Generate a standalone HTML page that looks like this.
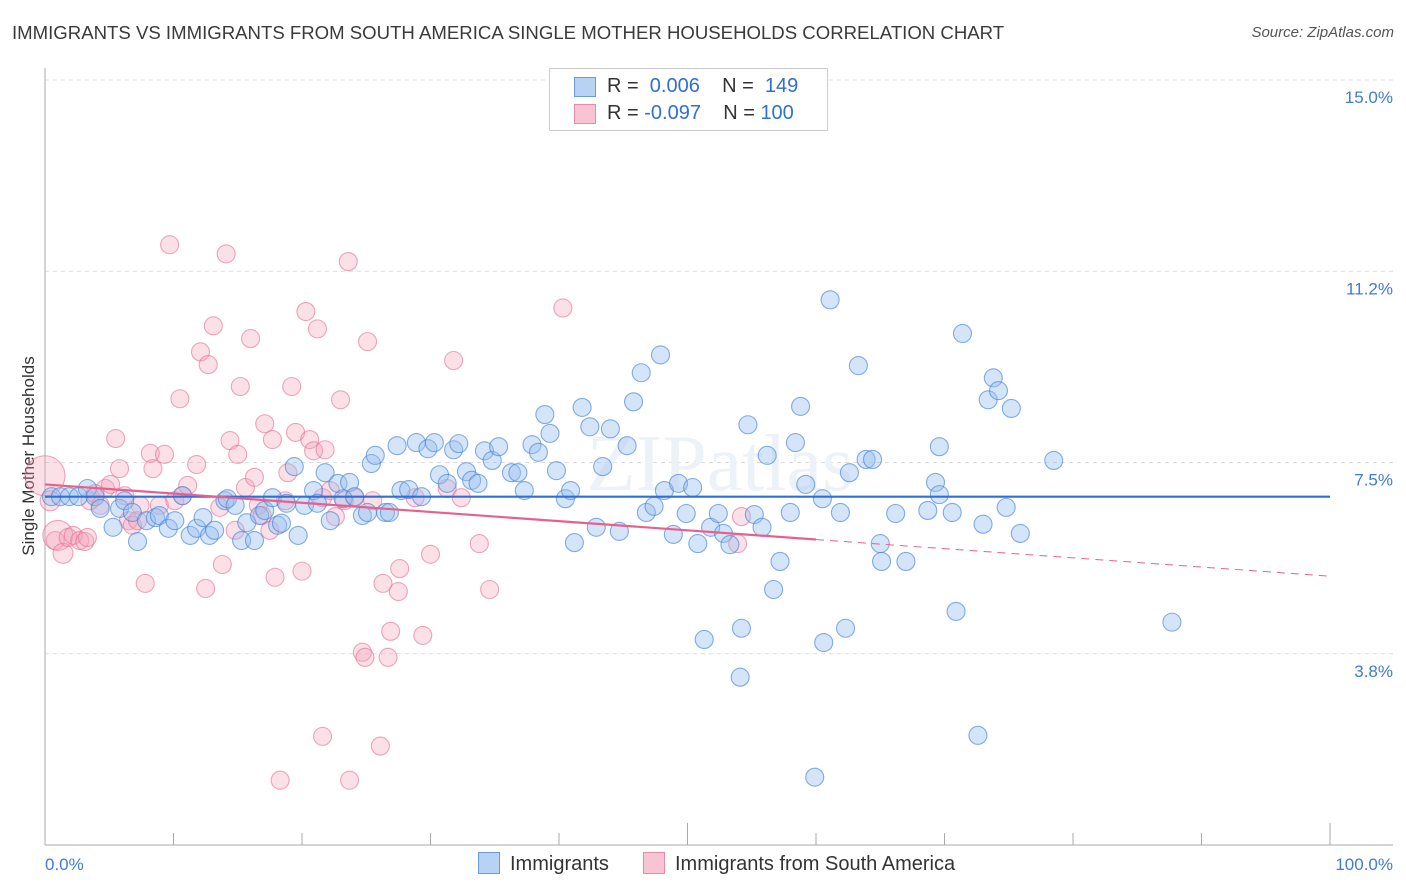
<!DOCTYPE html>
<html><head><meta charset="utf-8"><style>
body{margin:0;background:#fff;font-family:"Liberation Sans",sans-serif}
#wrap{position:relative;width:1406px;height:892px;overflow:hidden}
.t{position:absolute;white-space:nowrap}
</style></head><body>
<div id="wrap">
<div class="t" style="left:12px;top:22px;font-size:18.6px;color:#3a3a3a">IMMIGRANTS VS IMMIGRANTS FROM SOUTH AMERICA SINGLE MOTHER HOUSEHOLDS CORRELATION CHART</div>
<div class="t" style="right:12px;top:24px;font-size:15px;color:#555;font-style:italic">Source: ZipAtlas.com</div>
<svg id="svg" width="1406" height="892" style="position:absolute;left:0;top:0"></svg>
</div>
<script>
const yTicks=[15.0,11.25,7.5,3.75];
const yTickLabels=["15.0%","11.2%","7.5%","3.8%"];
const xTickLabels=["0.0%","100.0%"];
const blueX=[0.5,1.2,1.9,2.6,3.3,3.9,4.3,5.3,5.8,6.2,6.8,7.2,7.9,8.6,8.9,9.6,10.1,10.7,11.3,11.8,12.3,12.8,13.2,14.0,14.2,14.8,15.3,15.7,16.3,16.7,17.1,17.7,18.1,18.4,18.8,19.4,19.7,20.2,20.9,21.2,21.8,22.2,22.8,23.2,23.7,24.1,24.7,25.1,25.4,25.7,26.5,26.8,27.4,27.7,28.3,28.9,29.3,29.8,30.3,30.7,31.3,31.8,32.2,32.8,33.2,33.7,34.2,34.8,35.3,36.3,36.8,37.3,37.9,38.4,38.9,39.3,39.8,40.5,40.9,41.2,41.8,42.4,42.9,43.4,44.0,44.7,45.3,45.8,46.4,46.8,47.4,47.9,48.2,48.9,49.3,49.9,50.4,50.8,51.3,51.8,52.4,52.8,53.3,54.1,54.2,54.7,55.2,55.8,56.2,56.7,57.2,58.0,58.4,58.8,59.2,59.9,60.5,60.6,61.1,61.9,62.3,62.6,63.3,63.9,64.4,65.0,65.1,66.2,67.0,68.7,69.3,69.6,69.6,70.6,70.9,71.4,72.6,73.0,73.4,73.8,74.2,74.8,75.2,75.9,78.5,87.7];
const blueY=[6.83,6.83,6.83,6.83,6.99,6.83,6.60,6.23,6.60,6.75,6.52,5.95,6.36,6.42,6.46,6.21,6.36,6.85,6.07,6.21,6.42,6.07,6.17,6.75,6.79,6.66,5.97,6.32,5.97,6.46,6.56,6.81,6.27,6.31,6.70,7.42,6.07,6.66,6.95,6.70,7.30,6.36,7.09,6.79,7.11,6.83,6.46,6.52,7.48,7.64,6.52,6.52,7.83,6.95,6.97,7.89,6.83,7.77,7.89,7.26,7.09,7.75,7.87,7.32,7.15,7.09,7.73,7.54,7.81,7.30,7.30,6.95,7.85,7.70,8.44,8.07,7.34,6.79,6.95,5.93,8.58,8.20,6.23,7.42,8.16,6.15,7.83,8.69,9.26,6.52,6.64,9.61,6.95,6.09,7.09,6.50,7.01,5.91,4.03,6.23,6.50,6.11,5.89,3.29,4.25,8.24,6.48,6.23,7.64,5.01,5.56,6.52,7.89,8.60,7.07,1.33,6.79,3.97,10.69,6.52,4.25,7.30,9.40,7.56,7.56,5.91,5.56,6.50,5.56,6.56,7.11,6.87,7.81,6.52,4.58,10.03,2.15,6.29,8.73,9.16,8.91,6.62,8.56,6.11,7.54,4.37];
const pinkX=[0,0.4,0.8,1.0,1.4,1.8,2.2,2.7,3.1,3.3,3.5,3.9,4.3,4.7,5.1,5.5,5.8,6.2,6.5,6.8,7.2,7.4,7.8,8.2,8.4,8.9,9.3,9.7,10.1,10.5,10.7,11.1,11.8,12.1,12.5,12.7,13.1,13.6,13.8,14.1,14.4,14.8,15.0,15.2,15.6,16.0,16.3,16.6,16.9,17.1,17.5,17.7,17.9,18.3,18.7,18.9,19.2,19.5,20.0,20.3,20.6,20.9,21.2,21.6,21.6,21.8,22.2,22.6,23.0,23.3,23.6,23.7,24.1,24.7,24.9,25.1,25.5,26.1,26.3,26.7,26.9,27.5,27.6,28.8,29.4,30.0,31.3,31.8,32.4,33.8,34.6,40.3,53.9,54.2];
const pinkY=[7.24,6.75,5.97,6.07,5.72,6.03,6.07,5.97,5.95,6.03,6.75,6.89,6.66,6.99,7.07,7.97,7.38,6.85,6.36,6.27,6.36,6.66,5.13,7.68,7.38,6.66,7.66,11.77,6.75,8.75,6.85,7.05,7.46,9.67,5.03,9.42,10.18,6.62,5.50,11.59,7.93,6.17,7.66,8.99,7.01,9.93,7.21,6.66,6.46,8.26,6.17,7.95,5.25,1.27,6.75,7.30,8.99,8.09,5.37,10.46,7.95,7.73,10.12,6.81,2.13,7.75,6.95,6.44,8.73,6.75,11.44,1.27,6.81,3.78,3.68,9.87,6.75,1.94,5.13,3.68,4.19,4.97,5.42,6.81,4.11,5.70,6.99,9.50,6.81,5.91,5.01,10.53,5.91,6.44];
const pinkR=[20,10,9,15,10,9,9,9,9,9,9,9,9,9,9,9,9,9,9,9,9,9,9,9,9,9,9,9,9,9,9,9,9,9,9,9,9,9,9,9,9,9,9,9,9,9,9,9,9,9,9,9,9,9,9,9,9,9,9,9,9,9,9,9,9,9,9,9,9,9,9,9,9,9,9,9,9,9,9,9,9,9,9,9,9,9,9,9,9,9,9,9,9,9];
const blueTrend=[6.83,6.83];
const pinkTrend=[7.07,5.27];
const pinkSolidEnd=60;

const X0=45,X1=1330,Y0=845,Y15=80;
const sx=v=>X0+(X1-X0)*v/100;
const sy=v=>Y0-(Y0-Y15)*v/15;
const svg=document.getElementById('svg');
const NS='http://www.w3.org/2000/svg';
function mk(tag,attrs,parent){const e=document.createElementNS(NS,tag);for(const k in attrs)e.setAttribute(k,attrs[k]);(parent||svg).appendChild(e);return e;}

yTicks.forEach((v,i)=>{
  const g=mk('line',{x1:X0,x2:1393,y1:sy(v),y2:sy(v),stroke:'#dcdcdc','stroke-dasharray':'4,4'});
  
  
  const t=mk('text',{x:1393,y:sy(v)+23,'text-anchor':'end','font-size':'17',fill:'#3f7bd8','font-family':'Liberation Sans, sans-serif'});
  t.textContent=yTickLabels[i];
  
  
});
const ya=mk('line',{x1:X0,x2:X0,y1:68,y2:Y0,stroke:'#aaa'});


const xa=mk('line',{x1:X0,x2:1393,y1:Y0,y2:Y0,stroke:'#aaa'});


for(let i=0;i<=10;i++){
  const tk=mk('line',{x1:sx(i*10),x2:sx(i*10),y1:Y0,y2:(i%5==0?Y0-22:Y0-12)+(i==0?22:0),stroke:'#aaa'});
  
  
}
[[0,'start'],[100,'end']].forEach((p,i)=>{
  const t=mk('text',{x:i?1393:45,y:870,'text-anchor':p[1],'font-size':'17',fill:'#3f7bd8','font-family':'Liberation Sans, sans-serif'});
  t.textContent=xTickLabels[i];
  
  
});
const wm=mk('text',{x:720,y:490,'text-anchor':'middle','font-size':'80',fill:'#edf2f8','font-family':'Liberation Serif, serif'});
wm.textContent='ZIPatlas';


const yt=mk('text',{x:34,y:456,'text-anchor':'middle','font-size':'17',fill:'#333',transform:'rotate(-90 34 456)','font-family':'Liberation Sans, sans-serif'});
yt.textContent='Single Mother Households';



pinkX.forEach((x,i)=>{
  const c=mk('circle',{cx:sx(x),cy:sy(pinkY[i]),r:pinkR[i],fill:'rgba(244,160,185,0.33)',stroke:'rgba(228,110,145,0.6)','stroke-width':1.1});
  
  
});
blueX.forEach((x,i)=>{
  const c=mk('circle',{cx:sx(x),cy:sy(blueY[i]),r:9,fill:'rgba(150,190,240,0.4)',stroke:'rgba(70,130,215,0.65)','stroke-width':1.1});
  
  
});
const bt=mk('line',{x1:sx(0),x2:sx(100),y1:sy(blueTrend[0]),y2:sy(blueTrend[1]),stroke:'#2f6fd6','stroke-width':2.2});


const pAt=x=>pinkTrend[0]+(pinkTrend[1]-pinkTrend[0])*x/100;
const pt=mk('line',{x1:sx(0),x2:sx(pinkSolidEnd),y1:sy(pAt(0)),y2:sy(pAt(pinkSolidEnd)),stroke:'#e8608c','stroke-width':2.2});


const pd=mk('line',{x1:sx(pinkSolidEnd),x2:sx(100),y1:sy(pAt(pinkSolidEnd)),y2:sy(pAt(100)),stroke:'#e8608c','stroke-width':1,'stroke-dasharray':'8,6'});


</script>
<div class="t" style="left:549px;top:68px;width:277px;height:61px;border:1px solid #ccc;background:#fff;font-size:20px;color:#333">
 <div style="position:absolute;left:24px;top:8px;width:20px;height:18px;background:#b8d2f4;border:1px solid #6a9be0"></div>
 <div class="t" style="left:57px;top:6px">R = &nbsp;<span style="color:#2f6fd6">0.006</span>&nbsp;&nbsp;&nbsp; N = &nbsp;<span style="color:#2f6fd6">149</span></div>
 <div style="position:absolute;left:24px;top:35px;width:20px;height:18px;background:#f8c4d3;border:1px solid #e88aa8"></div>
 <div class="t" style="left:57px;top:33px">R = <span style="color:#2f6fd6">-0.097</span>&nbsp;&nbsp;&nbsp; N = <span style="color:#2f6fd6">100</span></div>
</div>
<div class="t" style="left:478px;top:852px;font-size:20px;color:#333">
 <span style="display:inline-block;width:20px;height:20px;background:#b8d2f4;border:1px solid #6a9be0;vertical-align:-4px;margin-right:10px"></span>Immigrants</div>
<div class="t" style="left:643px;top:852px;font-size:20px;color:#333">
 <span style="display:inline-block;width:20px;height:20px;background:#f8c4d3;border:1px solid #e88aa8;vertical-align:-4px;margin-right:10px"></span>Immigrants from South America</div>
</body></html>
